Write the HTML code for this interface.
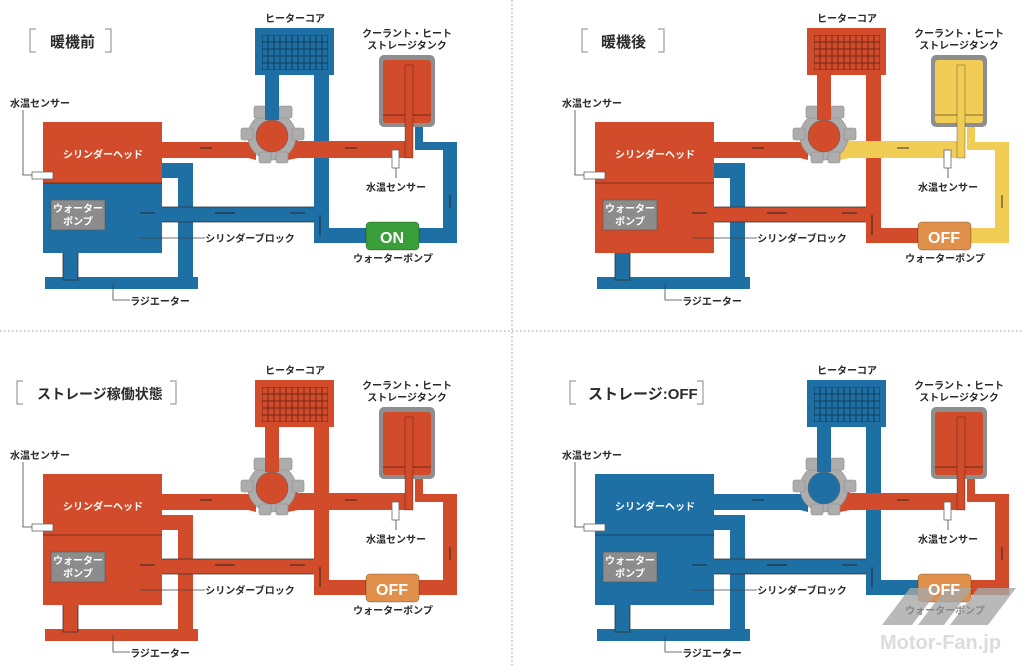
<!DOCTYPE html>
<html><head><meta charset="utf-8"><style>
html,body{margin:0;padding:0;background:#fff;}
svg{display:block;}
text{font-family:"Liberation Sans","Noto Sans CJK JP",sans-serif;font-weight:bold;fill:#2a2a2a;}
.w{fill:#fff;}
.t{font-size:15px;}
.l{font-size:10px;text-anchor:middle;}
</style></head><body>
<svg width="1024" height="666" viewBox="0 0 1024 666" xmlns="http://www.w3.org/2000/svg">
<defs>
<pattern id="grid" x="262" y="35" width="6" height="7" patternUnits="userSpaceOnUse">
<rect width="6" height="7" fill="none" stroke="rgba(0,0,0,0.45)" stroke-width="1"/>
</pattern>
<g id="d">
 <rect x="162" y="163" width="31" height="15" style="fill:var(--rad)"/>
 <rect x="178" y="163" width="15" height="124" style="fill:var(--rad)"/>
 <rect x="45" y="277" width="153" height="12" style="fill:var(--rad)"/>
 <rect x="63" y="250" width="15" height="30" style="fill:var(--rad)" stroke="#333" stroke-width="0.8"/>
 <rect x="265" y="70" width="14" height="50" style="fill:var(--hc)"/>
 <rect x="314" y="70" width="15" height="173" style="fill:var(--hc)"/>
 <rect x="314" y="228" width="56" height="15" style="fill:var(--hc)"/>
 <rect x="100" y="207" width="229" height="15" style="fill:var(--pp)"/>
 <line x1="105" y1="207" x2="314" y2="207" stroke="#333" stroke-width="0.8"/>
 <line x1="105" y1="222" x2="314" y2="222" stroke="#333" stroke-width="0.8"/>
 <rect x="255" y="28" width="79" height="47" style="fill:var(--hc)"/>
 <rect x="262" y="35" width="66" height="35" fill="url(#grid)"/>
 <path d="M415,120 H423 V142 H457 V243 H415 V228 H443 V150 H415 Z" style="fill:var(--loop)"/>
 <rect x="379" y="55" width="56" height="72" rx="5" fill="#8e8e8e"/>
 <rect x="383" y="60" width="48" height="63" rx="3" style="fill:var(--tank)"/>
 <line x1="383" y1="115" x2="431" y2="115" stroke="rgba(0,0,0,0.45)" stroke-width="1"/>
 <path d="M160,142 H248 L256,130 V160 L248,158 H160 Z" style="fill:var(--hv)"/>
 <path d="M288,130 L298,141 H413 V158 H298 L288,160 Z" style="fill:var(--vt)"/>
 <rect x="405" y="65" width="8" height="93" style="fill:var(--vt)" stroke="rgba(0,0,0,0.35)" stroke-width="0.8"/>
 <rect x="314" y="158" width="15" height="50" style="fill:var(--hc)"/>
 <g fill="#adadad" stroke="#8a8a8a" stroke-width="0.6">
  <circle cx="272" cy="136" r="24"/>
  <rect x="254" y="106" width="13" height="12" rx="2"/>
  <rect x="279" y="106" width="13" height="12" rx="2"/>
  <rect x="241" y="128" width="12" height="12" rx="2"/>
  <rect x="292" y="128" width="12" height="12" rx="2"/>
  <rect x="259" y="152" width="12" height="11" rx="2"/>
  <rect x="276" y="152" width="12" height="11" rx="2"/>
 </g>
 <rect x="265" y="100" width="14" height="20" style="fill:var(--hc)"/>
 <circle cx="272" cy="136" r="16" style="fill:var(--valve)" stroke="#666" stroke-width="0.6"/>
 <rect x="43" y="183" width="119" height="70" style="fill:var(--block)"/>
 <rect x="43" y="122" width="119" height="61" style="fill:var(--head)"/>
 <line x1="43" y1="183" x2="162" y2="183" stroke="rgba(0,0,0,0.5)" stroke-width="0.8"/>
 <rect x="51" y="200" width="54" height="30" fill="#8c8c8c" stroke="#555" stroke-width="0.6"/>
 <rect x="32" y="172" width="21" height="7" fill="#fff" stroke="#666" stroke-width="0.8"/>
 <polyline points="23,110 23,175 32,175" fill="none" stroke="#444" stroke-width="0.8"/>
 <rect x="392" y="150" width="7" height="18" fill="#fff" stroke="#666" stroke-width="0.8"/>
 <line x1="396" y1="168" x2="396" y2="178" stroke="#444" stroke-width="0.8"/>
 <polyline points="113,283 113,300 130,300" fill="none" stroke="#444" stroke-width="0.8"/>
 <line x1="140" y1="238" x2="205" y2="238" stroke="#444" stroke-width="0.8"/>
 <rect x="366" y="222" width="53" height="28" rx="4" style="fill:var(--pump)" stroke="rgba(0,0,0,0.25)"/>
 <g stroke="#222" stroke-width="0.9">
  <line x1="200" y1="148" x2="212" y2="148"/><line x1="345" y1="148" x2="357" y2="148"/>
  <line x1="140" y1="213" x2="155" y2="213"/><line x1="215" y1="213" x2="235" y2="213"/><line x1="290" y1="213" x2="305" y2="213"/>
  <line x1="450" y1="195" x2="450" y2="208"/><line x1="320" y1="215" x2="320" y2="235"/>
 </g>
</g>
</defs>

<line x1="0" y1="331" x2="1024" y2="331" stroke="#999" stroke-width="1" stroke-dasharray="1.5,2.5"/>
<line x1="512" y1="0" x2="512" y2="666" stroke="#999" stroke-width="1" stroke-dasharray="1.5,2.5"/>

<use href="#d" style="--rad:#1d6fa4;--hc:#1d6fa4;--pp:#1d6fa4;--loop:#1d6fa4;--tank:#d24b2b;--hv:#d24b2b;--vt:#d24b2b;--valve:#d24b2b;--head:#d24b2b;--block:#1d6fa4;--pump:#3a9e3a"/>
<use href="#d" transform="translate(552,0)" style="--rad:#1d6fa4;--hc:#d24b2b;--pp:#d24b2b;--loop:#f2cd55;--tank:#f2cd55;--hv:#d24b2b;--vt:#f2cd55;--valve:#d24b2b;--head:#d24b2b;--block:#d24b2b;--pump:#e0904a"/>
<use href="#d" transform="translate(0,352)" style="--rad:#d24b2b;--hc:#d24b2b;--pp:#d24b2b;--loop:#d24b2b;--tank:#d24b2b;--hv:#d24b2b;--vt:#d24b2b;--valve:#d24b2b;--head:#d24b2b;--block:#d24b2b;--pump:#e0904a"/>
<use href="#d" transform="translate(552,352)" style="--rad:#1d6fa4;--hc:#1d6fa4;--pp:#1d6fa4;--loop:#d24b2b;--tank:#d24b2b;--hv:#1d6fa4;--vt:#d24b2b;--valve:#1d6fa4;--head:#1d6fa4;--block:#1d6fa4;--pump:#e0904a"/>

<g fill="#a8a8a8" opacity="0.8">
 <polygon points="882,625 910,588 940,588 912,625"/>
 <polygon points="918,625 946,588 972,588 944,625"/>
 <polygon points="950,625 978,588 1016,588 988,625"/>
</g>
<text x="880" y="649" style="font-size:20px;fill:#dcdcdc;">Motor-Fan.jp</text>

<g fill="none" stroke="#888" stroke-width="1">
 <polyline points="36,29 30,29 30,52 36,52"/><polyline points="105,29 111,29 111,52 105,52"/>
 <polyline points="588,29 582,29 582,52 588,52"/><polyline points="658,29 664,29 664,52 658,52"/>
 <polyline points="23,381 17,381 17,404 23,404"/><polyline points="170,381 176,381 176,404 170,404"/>
 <polyline points="576,381 570,381 570,404 576,404"/><polyline points="697,381 703,381 703,404 697,404"/>
</g>
<text class="t" x="50" y="47">暖機前</text>
<text class="t" x="601" y="47">暖機後</text>
<text class="t" x="37" y="399" style="font-size:14px">ストレージ稼働状態</text>
<text class="t" x="588" y="399">ストレージ:OFF</text>

<g>
<text class="l" x="295" y="22">ヒーターコア</text>
<text class="l" x="407" y="37">クーラント・ヒート</text>
<text class="l" x="407" y="49">ストレージタンク</text>
<text class="l" x="40" y="107">水温センサー</text>
<text class="l" x="396" y="191">水温センサー</text>
<text class="l" x="393" y="262">ウォーターポンプ</text>
<text class="l" x="250" y="242">シリンダーブロック</text>
<text class="l" x="160" y="305">ラジエーター</text>
<text class="l w" x="103" y="158">シリンダーヘッド</text>
<text class="l w" x="78" y="212">ウォーター</text>
<text class="l w" x="78" y="225">ポンプ</text>
<text class="l w" x="392" y="243" style="font-size:16px">ON</text>
</g>
<g transform="translate(552,0)">
<text class="l" x="295" y="22">ヒーターコア</text>
<text class="l" x="407" y="37">クーラント・ヒート</text>
<text class="l" x="407" y="49">ストレージタンク</text>
<text class="l" x="40" y="107">水温センサー</text>
<text class="l" x="396" y="191">水温センサー</text>
<text class="l" x="393" y="262">ウォーターポンプ</text>
<text class="l" x="250" y="242">シリンダーブロック</text>
<text class="l" x="160" y="305">ラジエーター</text>
<text class="l w" x="103" y="158">シリンダーヘッド</text>
<text class="l w" x="78" y="212">ウォーター</text>
<text class="l w" x="78" y="225">ポンプ</text>
<text class="l w" x="392" y="243" style="font-size:16px">OFF</text>
</g>
<g transform="translate(0,352)">
<text class="l" x="295" y="22">ヒーターコア</text>
<text class="l" x="407" y="37">クーラント・ヒート</text>
<text class="l" x="407" y="49">ストレージタンク</text>
<text class="l" x="40" y="107">水温センサー</text>
<text class="l" x="396" y="191">水温センサー</text>
<text class="l" x="393" y="262">ウォーターポンプ</text>
<text class="l" x="250" y="242">シリンダーブロック</text>
<text class="l" x="160" y="305">ラジエーター</text>
<text class="l w" x="103" y="158">シリンダーヘッド</text>
<text class="l w" x="78" y="212">ウォーター</text>
<text class="l w" x="78" y="225">ポンプ</text>
<text class="l w" x="392" y="243" style="font-size:16px">OFF</text>
</g>
<g transform="translate(552,352)">
<text class="l" x="295" y="22">ヒーターコア</text>
<text class="l" x="407" y="37">クーラント・ヒート</text>
<text class="l" x="407" y="49">ストレージタンク</text>
<text class="l" x="40" y="107">水温センサー</text>
<text class="l" x="396" y="191">水温センサー</text>
<text class="l" x="393" y="262" style="fill:#888">ウォーターポンプ</text>
<text class="l" x="250" y="242">シリンダーブロック</text>
<text class="l" x="160" y="305">ラジエーター</text>
<text class="l w" x="103" y="158">シリンダーヘッド</text>
<text class="l w" x="78" y="212">ウォーター</text>
<text class="l w" x="78" y="225">ポンプ</text>
<text class="l w" x="392" y="243" style="font-size:16px">OFF</text>
</g>
</svg>
</body></html>
